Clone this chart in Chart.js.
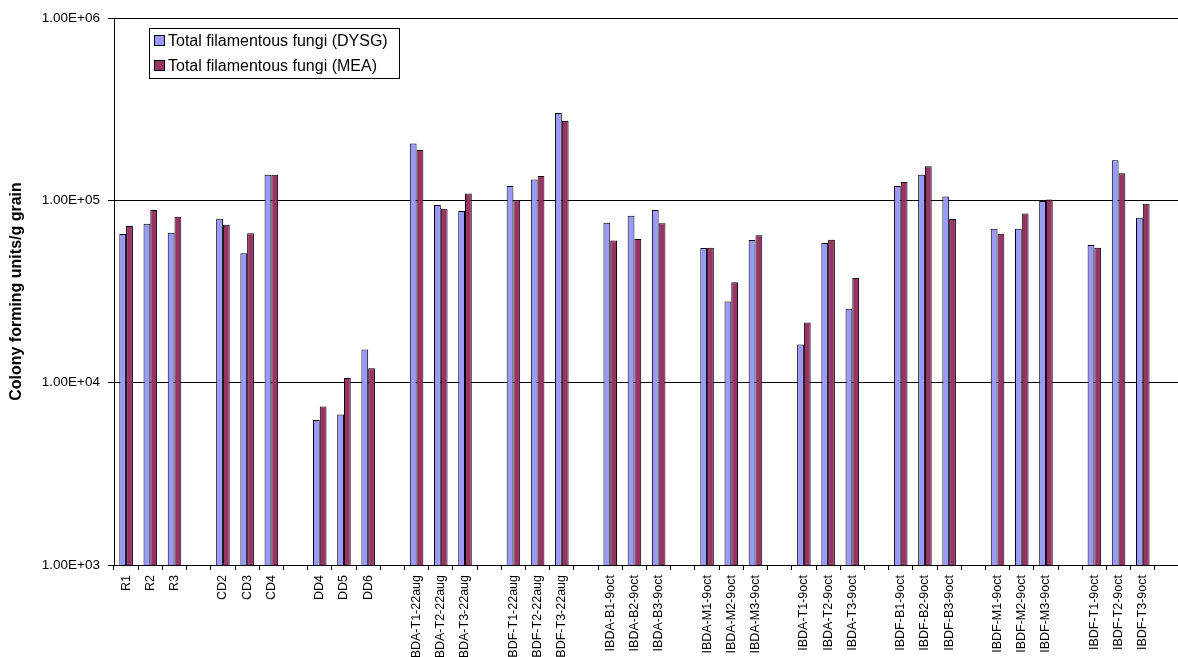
<!DOCTYPE html>
<html>
<head>
<meta charset="utf-8">
<script src="https://cdn.jsdelivr.net/npm/chart.js@4/dist/chart.umd.min.js"></script>
<style>
  html, body { margin: 0; padding: 0; background: #fff; overflow: hidden; }
  #wrap { width: 1187px; height: 657px; }
</style>
</head>
<body>
<div id="wrap"><canvas id="fungi" width="1187" height="657"></canvas></div>
<script>
// sample names, blank entries are the gaps between groups
var categories = ['R1','R2','R3','',
  'CD2','CD3','CD4','',
  'DD4','DD5','DD6','',
  'IBDA-T1-22aug','IBDA-T2-22aug','IBDA-T3-22aug','',
  'IBDF-T1-22aug','IBDF-T2-22aug','IBDF-T3-22aug','',
  'IBDA-B1-9oct','IBDA-B2-9oct','IBDA-B3-9oct','',
  'IBDA-M1-9oct','IBDA-M2-9oct','IBDA-M3-9oct','',
  'IBDA-T1-9oct','IBDA-T2-9oct','IBDA-T3-9oct','',
  'IBDF-B1-9oct','IBDF-B2-9oct','IBDF-B3-9oct','',
  'IBDF-M1-9oct','IBDF-M2-9oct','IBDF-M3-9oct','',
  'IBDF-T1-9oct','IBDF-T2-9oct','IBDF-T3-9oct',''];

var dysg = [65300,74400,66400,null,
  79300,51200,138000,null,
  6250,6700,15200,null,
  205000,94200,87400,null,
  120000,130000,301000,null,
  75300,82400,88500,null,
  54700,27900,60600,null,
  16200,58300,25400,null,
  120000,138000,105000,null,
  69900,69900,99100,null,
  56900,166000,80300,null];

var mea = [72300,88500,81300,null,
  73500,65900,138000,null,
  7400,10600,12000,null,
  189000,90000,109000,null,
  100000,136000,272000,null,
  60300,61400,74800,null,
  54900,35500,64300,null,
  21400,60800,37500,null,
  126000,154000,78900,null,
  65600,84800,101000,null,
  54900,141000,95800,null];

var yTicks = [1e3, 1e4, 1e5, 1e6];
var seriesNames = ['Total filamentous fungi (DYSG)', 'Total filamentous fungi (MEA)'];
var seriesColors = ['#9999FF', '#993366'];

function sciLabel(v) {
    var e = Math.round(Math.log10(v));
    var m = v / Math.pow(10, e);
    return m.toFixed(2) + 'E+' + (e < 10 ? '0' : '') + e;
}

// legend box drawn inside the plot, like the original
var boxLegend = {
    id: 'boxLegend',
    afterDraw: function(chart) {
        var ctx = chart.ctx;
        var x = 149.5, y = 28.5, w = 250, h = 50;
        ctx.save();
        ctx.fillStyle = '#fff';
        ctx.fillRect(x, y, w, h);
        ctx.strokeStyle = '#000';
        ctx.lineWidth = 1;
        ctx.strokeRect(x, y, w, h);
        ctx.font = '16px "Liberation Sans", Arial, sans-serif';
        ctx.textBaseline = 'middle';
        chart.data.datasets.forEach(function(ds, i) {
            var cy = 41 + i * 25;
            ctx.fillStyle = ds.backgroundColor;
            ctx.fillRect(154.5, cy - 5.5, 10, 10);
            ctx.strokeStyle = '#000';
            ctx.strokeRect(154.5, cy - 5.5, 10, 10);
            ctx.fillStyle = '#000';
            ctx.fillText(ds.label, 168, cy + 1);
        });
        ctx.restore();
    }
};

var chart = new Chart(document.getElementById('fungi'), {
    type: 'bar',
    data: {
        labels: categories,
        datasets: [
            {
                label: seriesNames[0],
                data: dysg,
                backgroundColor: seriesColors[0],
                borderColor: '#000',
                borderWidth: 1
            },
            {
                label: seriesNames[1],
                data: mea,
                backgroundColor: seriesColors[1],
                borderColor: '#000',
                borderWidth: 1
            }
        ]
    },
    options: {
        responsive: false,
        animation: false,
        datasets: {
            bar: {
                categoryPercentage: 0.56,
                barPercentage: 1.0
            }
        },
        layout: { padding: { top: 18, left: 0, right: 0, bottom: 0 } },
        plugins: {
            legend: { display: false },
            tooltip: { enabled: false }
        },
        scales: {
            x: {
                grid: {
                    offset: true,
                    drawOnChartArea: false,
                    drawTicks: true,
                    tickLength: 5,
                    color: '#000'
                },
                border: { color: '#000', width: 1 },
                ticks: {
                    autoSkip: false,
                    minRotation: 90,
                    maxRotation: 90,
                    padding: 5,
                    color: '#000',
                    font: { family: '"Liberation Sans", Arial, sans-serif', size: 12.5 }
                },
                afterFit: function(scale) {
                    scale.height = 92;
                }
            },
            y: {
                type: 'logarithmic',
                min: 1000,
                max: 1000000,
                grid: {
                    color: '#000',
                    tickLength: 6
                },
                border: { color: '#000', width: 1 },
                afterBuildTicks: function(scale) {
                    scale.ticks = yTicks.map(function(v) { return { value: v }; });
                },
                ticks: {
                    padding: 8,
                    color: '#000',
                    font: { family: '"Liberation Sans", Arial, sans-serif', size: 13.5 },
                    callback: function(value) {
                        return sciLabel(value);
                    }
                },
                title: {
                    display: true,
                    text: 'Colony forming units/g grain',
                    color: '#000',
                    padding: { top: 7, bottom: 0 },
                    font: { family: '"Liberation Sans", Arial, sans-serif', size: 16, weight: 'bold' }
                },
                afterFit: function(scale) {
                    scale.width = 114;
                }
            }
        }
    },
    plugins: [boxLegend]
});
</script>
</body>
</html>
